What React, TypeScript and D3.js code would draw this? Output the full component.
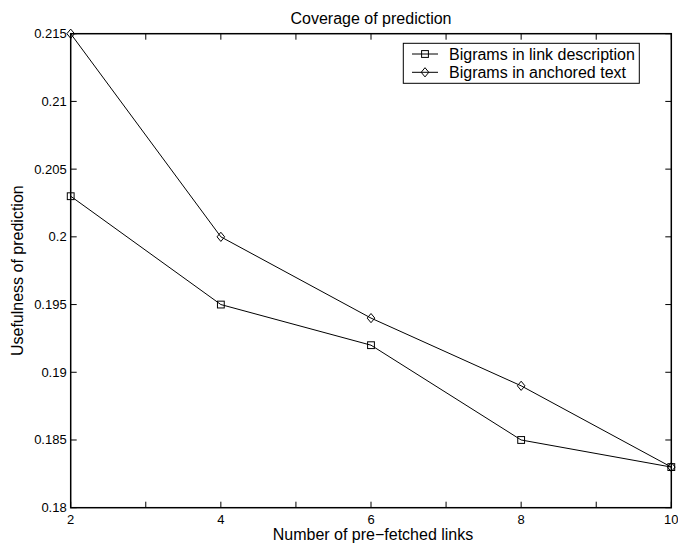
import React from "react";
import * as d3 from "d3";

const xValues = [2, 4, 6, 8, 10];
const linkDescription = [0.203, 0.195, 0.192, 0.185, 0.183];
const anchoredText = [0.215, 0.2, 0.194, 0.189, 0.183];
const xTicks = [2, 3, 4, 5, 6, 7, 8, 9, 10];
const xTickLabels = ["2", "", "4", "", "6", "", "8", "", "10"];
const yTicks = [0.18, 0.185, 0.19, 0.195, 0.2, 0.205, 0.21, 0.215];
const yTickLabels = ["0.18", "0.185", "0.19", "0.195", "0.2", "0.205", "0.21", "0.215"];
const seriesNames = ["Bigrams in link description", "Bigrams in anchored text"];
const title = "Coverage of prediction";
const xLabel = "Number of pre\u2212fetched links";
const yLabel = "Usefulness of prediction";

const W = 678;
const H = 544;
const L = 70.7, R = 671.3, T = 33.7, B = 507.7;
const FONT = "Liberation Sans, Arial, Helvetica, sans-serif";

function Square({ x, y }: { x: number; y: number }) {
  const s = 3.4;
  return <rect x={x - s} y={y - s} width={2 * s} height={2 * s} fill="none" stroke="#000" strokeWidth={1} />;
}
function Diamond({ x, y }: { x: number; y: number }) {
  const w = 3.8, h = 4.6;
  return <path d={`M${x},${y - h}L${x + w},${y}L${x},${y + h}L${x - w},${y}Z`} fill="none" stroke="#000" strokeWidth={1} />;
}

export default function App() {
  const xs = d3.scaleLinear().domain([2, 10]).range([L, R]);
  const ys = d3.scaleLinear().domain([0.18, 0.215]).range([B, T]);
  const line = d3.line<[number, number]>().x(d => xs(d[0])).y(d => ys(d[1]));
  const d1 = xValues.map((x, i) => [x, linkDescription[i]] as [number, number]);
  const d2 = xValues.map((x, i) => [x, anchoredText[i]] as [number, number]);
  const tl = 6;
  const lgX = 403.3, lgY = 43.3, lgW = 236, lgH = 40;
  const rows = [54, 72.3];
  return (
    <svg width={W} height={H} style={{ position: "absolute", left: 0, top: 0, background: "#fff" }} fontFamily={FONT}>
      <rect x={0} y={0} width={W} height={H} fill="#fff" />
      {/* ticks */}
      {xTicks.map((t, i) => (
        <g key={"xt" + i}>
          <line x1={xs(t)} x2={xs(t)} y1={B} y2={B - tl} stroke="#000" strokeWidth={1} />
          <line x1={xs(t)} x2={xs(t)} y1={T} y2={T + tl} stroke="#000" strokeWidth={1} />
          {xTickLabels[i] && (
            <text x={xs(t)} y={B + 16} textAnchor="middle" fontSize={13}>{xTickLabels[i]}</text>
          )}
        </g>
      ))}
      {yTicks.map((t, i) => (
        <g key={"yt" + i}>
          <line x1={L} x2={L + tl} y1={ys(t)} y2={ys(t)} stroke="#000" strokeWidth={1} />
          <line x1={R} x2={R - tl} y1={ys(t)} y2={ys(t)} stroke="#000" strokeWidth={1} />
          <text x={L - 4} y={ys(t) + 4.5} textAnchor="end" fontSize={13}>{yTickLabels[i]}</text>
        </g>
      ))}
      <rect x={L} y={T} width={R - L} height={B - T} fill="none" stroke="#000" strokeWidth={1.5} />
      {/* series */}
      <path d={line(d1) || ""} fill="none" stroke="#000" strokeWidth={1} />
      <path d={line(d2) || ""} fill="none" stroke="#000" strokeWidth={1} />
      {d1.map((d, i) => <Square key={"s" + i} x={xs(d[0])} y={ys(d[1])} />)}
      {d2.map((d, i) => <Diamond key={"d" + i} x={xs(d[0])} y={ys(d[1])} />)}
      {/* legend */}
      <rect x={lgX} y={lgY} width={lgW} height={lgH} fill="#fff" stroke="#000" strokeWidth={1} />
      {rows.map((ry, i) => (
        <g key={"lg" + i}>
          <line x1={412} x2={438} y1={ry} y2={ry} stroke="#000" strokeWidth={1} />
          {i === 0 ? <Square x={425} y={ry} /> : <Diamond x={425} y={ry} />}
          <text x={449} y={ry + 5.7} fontSize={16}>{seriesNames[i]}</text>
        </g>
      ))}
      {/* labels */}
      <text x={(L + R) / 2} y={24} textAnchor="middle" fontSize={16}>{title}</text>
      <text x={(L + R) / 2 + 2} y={540} textAnchor="middle" fontSize={16}>{xLabel}</text>
      <text transform={`translate(23,${(T + B) / 2}) rotate(-90)`} textAnchor="middle" fontSize={16}>{yLabel}</text>
    </svg>
  );
}
